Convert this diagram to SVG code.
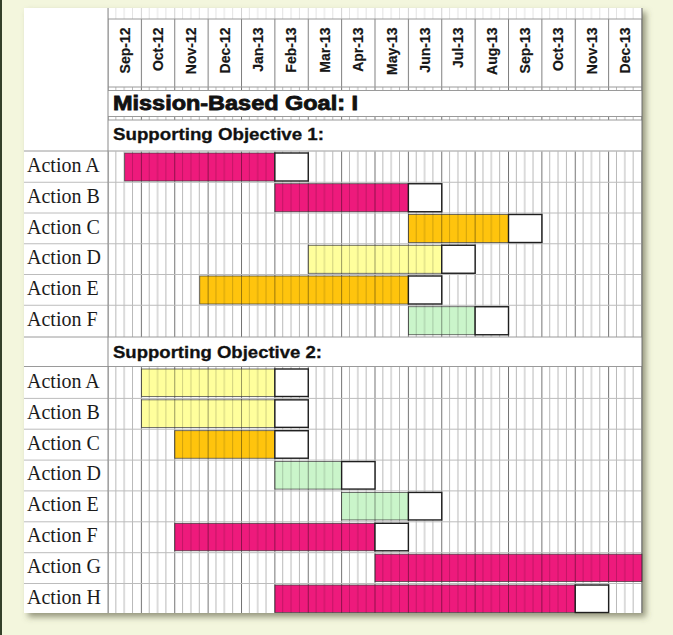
<svg xmlns="http://www.w3.org/2000/svg" width="673" height="635" viewBox="0 0 673 635">
  <defs>
    <style>
      .lbl { font-family: "Liberation Serif", "Times New Roman", serif; font-size: 20px; fill: #1b1b1b; }
      .mon { font-family: "Liberation Sans", Arial, sans-serif; font-weight: bold; font-size: 14px; fill: #161616; text-anchor: end; stroke: #161616; stroke-width: 0.2; }
      .hdr { font-family: "Liberation Sans", Arial, sans-serif; font-weight: bold; fill: #111; stroke: #111; }
      .rule { stroke: #9a9a9a; stroke-width: 1; fill: none; }
      .rowline { stroke: #bcbcbc; stroke-width: 1; fill: none; }
      .bar { stroke: #3a3a3a; stroke-width: 0.7; }
      .pink { fill: url(#gPink); }
      .orange { fill: url(#gOrange); }
      .yellow { fill: url(#gYellow); }
      .green { fill: url(#gGreen); }
      .ms { fill: #ffffff; stroke: #1e1e1e; stroke-width: 1.4; }
    </style>
    <!-- weekly grid: one tile per month, darker line at the month boundary -->
    <pattern id="grid" patternUnits="userSpaceOnUse" x="107.5" y="0" width="33.375" height="20">
      <rect x="0" y="0" width="1" height="20" fill="#000" fill-opacity="0.55"/>
      <rect x="7.9" y="0" width="0.9" height="20" fill="#000" fill-opacity="0.3"/>
      <rect x="16.24" y="0" width="0.9" height="20" fill="#000" fill-opacity="0.3"/>
      <rect x="24.58" y="0" width="0.9" height="20" fill="#000" fill-opacity="0.3"/>
    </pattern>
    <pattern id="gridFaint" patternUnits="userSpaceOnUse" x="107.5" y="0" width="33.375" height="20">
      <rect x="0" y="0" width="1" height="20" fill="#000" fill-opacity="0.18"/>
      <rect x="7.9" y="0" width="0.9" height="20" fill="#000" fill-opacity="0.12"/>
      <rect x="16.24" y="0" width="0.9" height="20" fill="#000" fill-opacity="0.12"/>
      <rect x="24.58" y="0" width="0.9" height="20" fill="#000" fill-opacity="0.12"/>
    </pattern>
    <pattern id="monthGrid" patternUnits="userSpaceOnUse" x="107.5" y="0" width="33.375" height="20">
      <rect x="0" y="0" width="1" height="20" fill="#000" fill-opacity="0.5"/>
    </pattern>
    <pattern id="gPink" patternUnits="userSpaceOnUse" x="107.5" y="0" width="33.375" height="20">
      <rect width="33.375" height="20" fill="#ee1a7c"/>
      <rect x="0" y="0" width="1" height="20" fill="#000" fill-opacity="0.4"/>
      <rect x="7.9" y="0" width="0.9" height="20" fill="#000" fill-opacity="0.2"/>
      <rect x="16.24" y="0" width="0.9" height="20" fill="#000" fill-opacity="0.2"/>
      <rect x="24.58" y="0" width="0.9" height="20" fill="#000" fill-opacity="0.2"/>
    </pattern>
    <pattern id="gOrange" patternUnits="userSpaceOnUse" x="107.5" y="0" width="33.375" height="20">
      <rect width="33.375" height="20" fill="#ffc40d"/>
      <rect x="0" y="0" width="1" height="20" fill="#000" fill-opacity="0.4"/>
      <rect x="7.9" y="0" width="0.9" height="20" fill="#000" fill-opacity="0.2"/>
      <rect x="16.24" y="0" width="0.9" height="20" fill="#000" fill-opacity="0.2"/>
      <rect x="24.58" y="0" width="0.9" height="20" fill="#000" fill-opacity="0.2"/>
    </pattern>
    <pattern id="gYellow" patternUnits="userSpaceOnUse" x="107.5" y="0" width="33.375" height="20">
      <rect width="33.375" height="20" fill="#ffff9c"/>
      <rect x="0" y="0" width="1" height="20" fill="#000" fill-opacity="0.4"/>
      <rect x="7.9" y="0" width="0.9" height="20" fill="#000" fill-opacity="0.2"/>
      <rect x="16.24" y="0" width="0.9" height="20" fill="#000" fill-opacity="0.2"/>
      <rect x="24.58" y="0" width="0.9" height="20" fill="#000" fill-opacity="0.2"/>
    </pattern>
    <pattern id="gGreen" patternUnits="userSpaceOnUse" x="107.5" y="0" width="33.375" height="20">
      <rect width="33.375" height="20" fill="#caf5ca"/>
      <rect x="0" y="0" width="1" height="20" fill="#000" fill-opacity="0.4"/>
      <rect x="7.9" y="0" width="0.9" height="20" fill="#000" fill-opacity="0.2"/>
      <rect x="16.24" y="0" width="0.9" height="20" fill="#000" fill-opacity="0.2"/>
      <rect x="24.58" y="0" width="0.9" height="20" fill="#000" fill-opacity="0.2"/>
    </pattern>
    <filter id="shadow" x="-5%" y="-5%" width="115%" height="115%">
      <feDropShadow dx="4" dy="4" stdDeviation="3" flood-color="#55553a" flood-opacity="0.6"/>
    </filter>
  </defs>

  <!-- page background -->
  <rect width="673" height="635" fill="#f3f6dd"/>
  <rect x="0" y="0" width="2" height="635" fill="#34402a"/>

  <!-- sheet -->
  <rect id="sheet" x="24" y="8" width="618" height="605" fill="#ffffff" filter="url(#shadow)"/>

  <!-- grid -->
  <g id="grid-lines">
    <rect x="108" y="8" width="534" height="11" fill="url(#gridFaint)"/>
    <rect x="108" y="19" width="534" height="68" fill="url(#monthGrid)"/>
    <rect x="108" y="87" width="534" height="3.5" fill="url(#grid)"/>
    <rect x="108" y="116.5" width="534" height="3.5" fill="url(#grid)"/>
    <rect x="108" y="151.5" width="534" height="185.5" fill="url(#grid)"/>
    <rect x="108" y="366.5" width="534" height="246.5" fill="url(#grid)"/>

    <line class="rule" x1="108" y1="19" x2="642" y2="19"/>
    <line class="rule" x1="108" y1="87" x2="642" y2="87"/>
    <line class="rule" x1="108" y1="90.5" x2="642" y2="90.5"/>
    <line class="rule" x1="108" y1="116.5" x2="642" y2="116.5"/>
    <line class="rule" x1="108" y1="120" x2="642" y2="120"/>
    <line class="rule" x1="24" y1="151" x2="642" y2="151"/>
    <line class="rule" x1="24" y1="337" x2="642" y2="337"/>
    <line class="rule" x1="24" y1="366.5" x2="642" y2="366.5"/>

    <line class="rowline" x1="24" y1="182.25" x2="642" y2="182.25"/>
    <line class="rowline" x1="24" y1="213" x2="642" y2="213"/>
    <line class="rowline" x1="24" y1="243.75" x2="642" y2="243.75"/>
    <line class="rowline" x1="24" y1="274.5" x2="642" y2="274.5"/>
    <line class="rowline" x1="24" y1="305.25" x2="642" y2="305.25"/>
    <line class="rowline" x1="24" y1="398.4" x2="642" y2="398.4"/>
    <line class="rowline" x1="24" y1="429.2" x2="642" y2="429.2"/>
    <line class="rowline" x1="24" y1="460.1" x2="642" y2="460.1"/>
    <line class="rowline" x1="24" y1="490.9" x2="642" y2="490.9"/>
    <line class="rowline" x1="24" y1="521.8" x2="642" y2="521.8"/>
    <line class="rowline" x1="24" y1="552.7" x2="642" y2="552.7"/>
    <line class="rowline" x1="24" y1="583.5" x2="642" y2="583.5"/>

    <line x1="108" y1="8" x2="108" y2="613" stroke="#8a8a8a" stroke-width="1"/>
    <line x1="642" y1="8" x2="642" y2="613" stroke="#6e6e6e" stroke-width="1"/>
  </g>

  <!-- month headings -->
  <g id="months">
    <text class="mon" transform="translate(129.5,27.5) rotate(-90)">Sep-12</text>
    <text class="mon" transform="translate(162.9,27.5) rotate(-90)">Oct-12</text>
    <text class="mon" transform="translate(196.2,27.5) rotate(-90)">Nov-12</text>
    <text class="mon" transform="translate(229.6,27.5) rotate(-90)">Dec-12</text>
    <text class="mon" transform="translate(263,27.5) rotate(-90)">Jan-13</text>
    <text class="mon" transform="translate(296.4,27.5) rotate(-90)">Feb-13</text>
    <text class="mon" transform="translate(329.7,27.5) rotate(-90)">Mar-13</text>
    <text class="mon" transform="translate(363.1,27.5) rotate(-90)">Apr-13</text>
    <text class="mon" transform="translate(396.5,27.5) rotate(-90)">May-13</text>
    <text class="mon" transform="translate(429.9,27.5) rotate(-90)">Jun-13</text>
    <text class="mon" transform="translate(463.2,27.5) rotate(-90)">Jul-13</text>
    <text class="mon" transform="translate(496.6,27.5) rotate(-90)">Aug-13</text>
    <text class="mon" transform="translate(530,27.5) rotate(-90)">Sep-13</text>
    <text class="mon" transform="translate(563.4,27.5) rotate(-90)">Oct-13</text>
    <text class="mon" transform="translate(596.7,27.5) rotate(-90)">Nov-13</text>
    <text class="mon" transform="translate(630.1,27.5) rotate(-90)">Dec-13</text>
  </g>

  <!-- section headings -->
  <g id="headings">
    <text class="hdr" x="113" y="110" font-size="20" stroke-width="0.8" textLength="245" lengthAdjust="spacingAndGlyphs">Mission-Based Goal: I</text>
    <text class="hdr" x="113" y="140" font-size="17" stroke-width="0.3" textLength="211" lengthAdjust="spacingAndGlyphs">Supporting Objective 1:</text>
    <text class="hdr" x="113" y="358" font-size="17" stroke-width="0.3" textLength="209" lengthAdjust="spacingAndGlyphs">Supporting Objective 2:</text>
  </g>

  <!-- Supporting Objective 1 -->
  <g id="o1-action-a">
    <text class="lbl" x="27" y="172">Action A</text>
    <rect class="bar pink" x="124.69" y="153" width="150.19" height="28"/>
    <rect class="ms" x="274.875" y="153" width="33.375" height="28"/>
  </g>
  <g id="o1-action-b">
    <text class="lbl" x="27" y="202.75">Action B</text>
    <rect class="bar pink" x="274.875" y="183.75" width="133.5" height="28"/>
    <rect class="ms" x="408.375" y="183.75" width="33.375" height="28"/>
  </g>
  <g id="o1-action-c">
    <text class="lbl" x="27" y="233.5">Action C</text>
    <rect class="bar orange" x="408.375" y="214.5" width="100.125" height="28"/>
    <rect class="ms" x="508.5" y="214.5" width="33.375" height="28"/>
  </g>
  <g id="o1-action-d">
    <text class="lbl" x="27" y="264.25">Action D</text>
    <rect class="bar yellow" x="308.25" y="245.25" width="133.5" height="28"/>
    <rect class="ms" x="441.75" y="245.25" width="33.375" height="28"/>
  </g>
  <g id="o1-action-e">
    <text class="lbl" x="27" y="295">Action E</text>
    <rect class="bar orange" x="199.78" y="276" width="208.6" height="28"/>
    <rect class="ms" x="408.375" y="276" width="33.375" height="28"/>
  </g>
  <g id="o1-action-f">
    <text class="lbl" x="27" y="325.75">Action F</text>
    <rect class="bar green" x="408.375" y="306.75" width="66.75" height="28"/>
    <rect class="ms" x="475.125" y="306.75" width="33.375" height="28"/>
  </g>

  <!-- Supporting Objective 2 -->
  <g id="o2-action-a">
    <text class="lbl" x="27" y="387.75">Action A</text>
    <rect class="bar yellow" x="141.375" y="369" width="133.5" height="27.5"/>
    <rect class="ms" x="274.875" y="369" width="33.375" height="27.5"/>
  </g>
  <g id="o2-action-b">
    <text class="lbl" x="27" y="418.6">Action B</text>
    <rect class="bar yellow" x="141.375" y="399.86" width="133.5" height="27.5"/>
    <rect class="ms" x="274.875" y="399.86" width="33.375" height="27.5"/>
  </g>
  <g id="o2-action-c">
    <text class="lbl" x="27" y="449.5">Action C</text>
    <rect class="bar orange" x="174.75" y="430.72" width="100.125" height="27.5"/>
    <rect class="ms" x="274.875" y="430.72" width="33.375" height="27.5"/>
  </g>
  <g id="o2-action-d">
    <text class="lbl" x="27" y="480.3">Action D</text>
    <rect class="bar green" x="274.875" y="461.58" width="66.75" height="27.5"/>
    <rect class="ms" x="341.625" y="461.58" width="33.375" height="27.5"/>
  </g>
  <g id="o2-action-e">
    <text class="lbl" x="27" y="511.2">Action E</text>
    <rect class="bar green" x="341.625" y="492.44" width="66.75" height="27.5"/>
    <rect class="ms" x="408.375" y="492.44" width="33.375" height="27.5"/>
  </g>
  <g id="o2-action-f">
    <text class="lbl" x="27" y="542.1">Action F</text>
    <rect class="bar pink" x="174.75" y="523.3" width="200.25" height="27.5"/>
    <rect class="ms" x="375" y="523.3" width="33.375" height="27.5"/>
  </g>
  <g id="o2-action-g">
    <text class="lbl" x="27" y="572.9">Action G</text>
    <rect class="bar pink" x="375" y="554.16" width="267" height="27.5"/>
  </g>
  <g id="o2-action-h">
    <text class="lbl" x="27" y="603.8">Action H</text>
    <rect class="bar pink" x="274.875" y="585.02" width="300.375" height="27.5"/>
    <rect class="ms" x="575.25" y="585.02" width="33.375" height="27.5"/>
  </g>
</svg>
